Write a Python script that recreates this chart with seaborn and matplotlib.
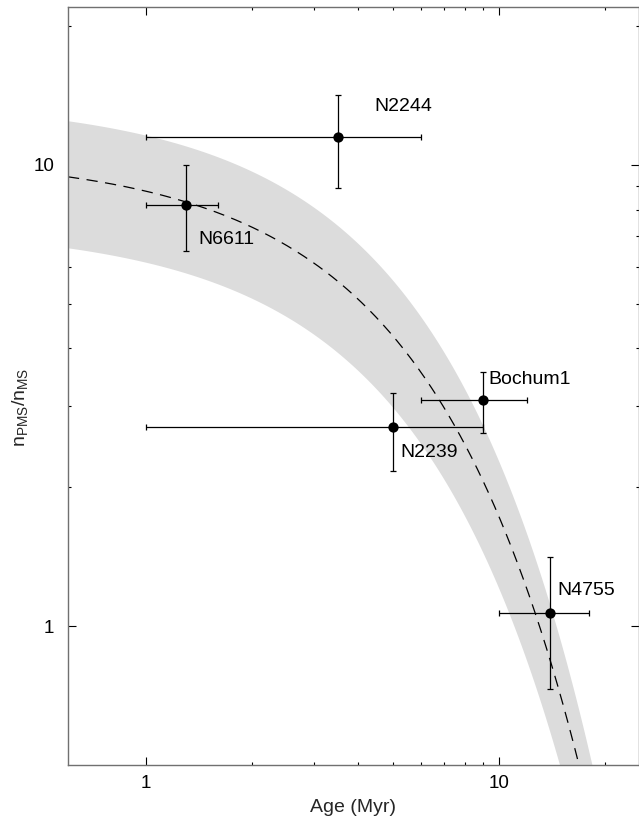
import numpy as np
import pandas as pd
import matplotlib
matplotlib.use("Agg")
import matplotlib.pyplot as plt
import seaborn as sns
from matplotlib.ticker import FixedLocator, NullFormatter, FixedFormatter

# Cluster measurements: age (Myr) and PMS/MS number ratio with asymmetric bounds
clusters = ["N2244", "N6611", "N2239", "Bochum1", "N4755"]
age = [3.5, 1.3, 5.0, 9.0, 14.0]
age_lo = [1.0, 1.0, 1.0, 6.0, 10.0]
age_hi = [6.0, 1.6, 9.0, 12.0, 18.0]
ratio = [11.5, 8.2, 2.7, 3.1, 1.07]
ratio_lo = [8.9, 6.5, 2.17, 2.62, 0.73]
ratio_hi = [14.2, 10.0, 3.2, 3.56, 1.41]

# Label offsets (points) relative to each cluster
label_dx = [26.4, 8.4, 5.3, 4.3, 5.3]
label_dy = [18.7, -28.6, -21.6, 11.5, 12.7]

# Exponential decay model and its spread
model_norm = 10.5
model_tau = 5.55
band_upper = 1.32
band_lower = 0.70

x_major = [1, 10]
x_minor = [2, 3, 4, 5, 6, 7, 8, 9, 20]
y_major = [1, 10]
y_minor = [2, 3, 4, 5, 6, 7, 8, 9, 20]

sns.set_theme(style="ticks")
plt.rcParams["font.family"] = ["Liberation Sans", "DejaVu Sans"]
plt.rcParams["mathtext.fontset"] = "custom"
plt.rcParams["mathtext.rm"] = "Liberation Sans"
plt.rcParams["mathtext.it"] = "Liberation Sans:italic"

df = pd.DataFrame({"cluster": clusters, "age": age, "ratio": ratio})

fig = plt.figure(figsize=(6.39, 8.22), dpi=100)
ax = fig.add_axes([68 / 639, 1 - 765 / 822, 1 - 68 / 639, (765 - 7) / 822])
ax.set_xscale("log")
ax.set_yscale("log")
ax.set_xlim(0.6, 25)
ax.set_ylim(0.5, 22)

t = np.logspace(np.log10(0.6), np.log10(25), 400)
curve = model_norm * np.exp(-t / model_tau)
ax.fill_between(t, curve * band_lower, curve * band_upper, color="#dcdcdc", lw=0, zorder=1)
model = pd.DataFrame({"t": t, "n": curve})
sns.lineplot(data=model, x="t", y="n", ax=ax, color="black", lw=0.9,
             dashes=False, zorder=2).lines[-1].set_dashes((9, 6))

xerr = [np.array(age) - np.array(age_lo), np.array(age_hi) - np.array(age)]
yerr = [np.array(ratio) - np.array(ratio_lo), np.array(ratio_hi) - np.array(ratio)]
ax.errorbar(age, ratio, xerr=xerr, yerr=yerr, fmt="none", ecolor="black",
            elinewidth=0.9, capsize=2.5, capthick=0.9, zorder=3)
sns.scatterplot(data=df, x="age", y="ratio", ax=ax, color="black", s=55,
                edgecolor="black", linewidth=0, zorder=4)

for name, x, y, dx, dy in zip(clusters, age, ratio, label_dx, label_dy):
    ax.annotate(name, xy=(x, y), xytext=(dx, dy), textcoords="offset points",
                ha="left", va="baseline", fontsize=14, color="black")

ax.xaxis.set_major_locator(FixedLocator(x_major))
ax.xaxis.set_major_formatter(FixedFormatter([str(v) for v in x_major]))
ax.xaxis.set_minor_locator(FixedLocator(x_minor))
ax.xaxis.set_minor_formatter(NullFormatter())
ax.yaxis.set_major_locator(FixedLocator(y_major))
ax.yaxis.set_major_formatter(FixedFormatter([str(v) for v in y_major]))
ax.yaxis.set_minor_locator(FixedLocator(y_minor))
ax.yaxis.set_minor_formatter(NullFormatter())

ax.tick_params(which="both", direction="in", top=True, right=True, colors="black",
               labelsize=13.5, width=0.8)
ax.tick_params(which="major", length=5.5)
ax.tick_params(which="minor", length=2.5)
ax.tick_params(axis="y", which="major", pad=10)
ax.tick_params(axis="x", which="major", pad=7)

for sp in ax.spines.values():
    sp.set_color("#707070")
    sp.set_linewidth(1.0)

ax.set_xlabel("Age (Myr)", fontsize=14)
ax.set_ylabel(r"n$_{\mathrm{PMS}}$/n$_{\mathrm{MS}}$", fontsize=14)
ax.xaxis.set_label_coords(0.5, -0.045)
ax.yaxis.set_label_coords(-0.067, 0.472)
ax.grid(False)

fig.savefig("out.png", dpi=100)
